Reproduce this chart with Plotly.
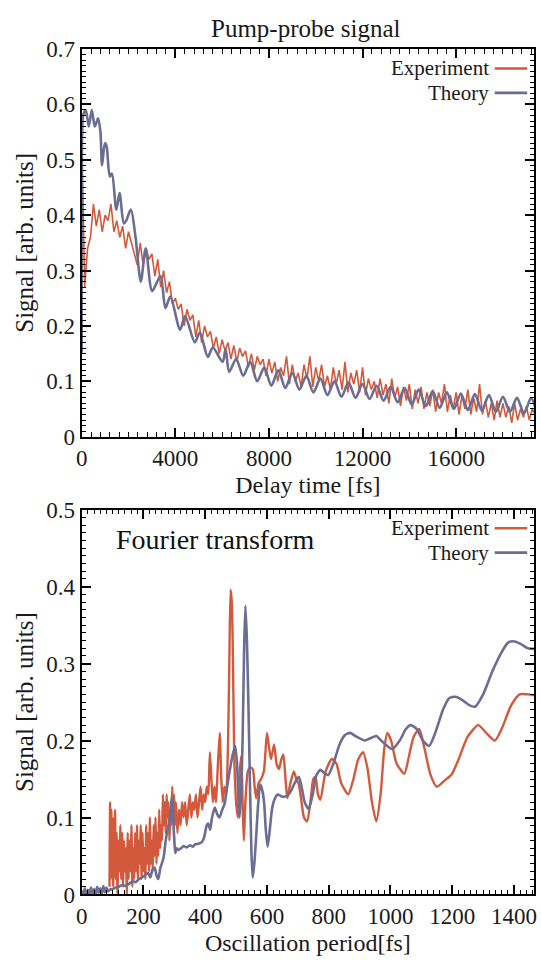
import plotly.graph_objects as go

# ---------------- Top panel: pump-probe signal ----------------
delay_start = 0
delay_step = 125
exp_signal = [
    0.55, 0.27, 0.34, 0.36, 0.42, 0.38, 0.41, 0.37, 0.40, 0.39, 0.42, 0.37, 0.39, 0.36, 0.38, 0.34,
    0.37, 0.35, 0.33, 0.31, 0.35, 0.31, 0.34, 0.32, 0.33, 0.29, 0.32, 0.27, 0.30, 0.26, 0.28, 0.24,
    0.25, 0.23, 0.24, 0.20, 0.23, 0.21, 0.22, 0.18, 0.21, 0.17, 0.20, 0.18, 0.19, 0.16, 0.18, 0.15,
    0.175, 0.155, 0.17, 0.14, 0.165, 0.135, 0.16, 0.145, 0.155, 0.125, 0.15, 0.12, 0.145, 0.13, 0.14, 0.11,
    0.14, 0.115, 0.135, 0.10, 0.125, 0.11, 0.145, 0.095, 0.13, 0.10, 0.115, 0.09, 0.13, 0.105, 0.145, 0.09,
    0.125, 0.10, 0.13, 0.09, 0.11, 0.085, 0.125, 0.095, 0.12, 0.085, 0.135, 0.08, 0.115, 0.095, 0.12, 0.08,
    0.125, 0.075, 0.105, 0.085, 0.10, 0.07, 0.105, 0.075, 0.095, 0.06, 0.105, 0.07, 0.09, 0.055, 0.09, 0.065,
    0.095, 0.05, 0.085, 0.06, 0.09, 0.05, 0.08, 0.055, 0.085, 0.045, 0.08, 0.06, 0.095, 0.045, 0.075, 0.05,
    0.08, 0.04, 0.075, 0.05, 0.085, 0.04, 0.07, 0.045, 0.095, 0.04, 0.065, 0.035, 0.06, 0.03, 0.065, 0.035,
    0.06, 0.035, 0.055, 0.025, 0.06, 0.03, 0.05, 0.035, 0.055, 0.03, 0.05, 0.04,
]
exp_delay = [delay_start + i * delay_step for i in range(len(exp_signal))]

theory_delay = [
    0, 20, 60, 175, 300, 430, 560, 700, 800, 870, 990, 1060, 1200, 1290, 1480, 1615, 1800, 1900,
    2100, 2300, 2525, 2735, 3010, 3365, 3575, 3785, 4205, 4415, 4835, 5045, 5390, 5600, 6020, 6150,
    6300, 6600, 6900, 7200, 7500, 7800, 8100, 8400, 8700, 9000, 9300, 9600, 9900, 10200, 10500, 10800,
    11100, 11400, 11700, 12000, 12300, 12600, 12900, 13200, 13500, 13800, 14100, 14400, 14700, 15000,
    15300, 15600, 15900, 16200, 16500, 16800, 17100, 17400, 17700, 18000, 18300, 18600, 18900, 19200, 19400,
]
theory_signal = [
    0.15, 0.55, 0.58, 0.59, 0.56, 0.59, 0.56, 0.575, 0.55, 0.49, 0.53, 0.525, 0.47, 0.475, 0.41, 0.44, 0.385, 0.39,
    0.41, 0.36, 0.28, 0.34, 0.263, 0.29, 0.232, 0.253, 0.193, 0.218, 0.17, 0.188, 0.144, 0.161, 0.135, 0.158,
    0.117, 0.14, 0.11, 0.135, 0.10, 0.125, 0.092, 0.12, 0.088, 0.115, 0.085, 0.11, 0.08, 0.105, 0.075, 0.10,
    0.072, 0.098, 0.07, 0.095, 0.068, 0.092, 0.065, 0.09, 0.062, 0.088, 0.058, 0.085, 0.055, 0.082,
    0.052, 0.08, 0.05, 0.078, 0.048, 0.077, 0.047, 0.075, 0.045, 0.072, 0.045, 0.07, 0.042, 0.07, 0.05,
]

# ---------------- Bottom panel: Fourier transform ----------------
exp_period = [
    90, 92, 94, 96, 98, 100, 102, 104, 106, 108, 110, 113, 116, 119, 122, 125, 128, 131, 134, 137,
    140, 143, 146, 149, 152, 155, 158, 161, 164, 167, 170, 173, 176, 179, 182, 185, 188, 191, 194, 197,
    200, 203, 206, 209, 212, 215, 218, 221, 224, 227, 230, 233, 236, 239, 242, 245, 248, 251, 254, 257,
    260, 263, 266, 269, 272, 275, 278, 281, 284, 287, 290, 293, 296, 299, 302, 305, 310, 315, 320, 325,
    330, 335, 340, 345, 350, 355, 360, 365, 370, 375, 380, 385, 390, 395, 400, 405, 410, 415, 420, 425,
    430, 435, 440, 447, 452, 457, 462, 468, 474, 478, 482, 486, 490, 494, 500, 506, 512, 517, 521, 525,
    530, 538, 546, 554, 560, 565, 573, 581, 590, 600, 607, 613, 623, 631, 639, 646, 653, 660, 666, 676,
    687, 695, 703, 712, 720, 730, 742, 750, 757, 765, 773, 790, 810, 825, 840, 863, 880, 895, 911, 925,
    940, 954, 968, 980, 990, 1002, 1020, 1045, 1060, 1075, 1093, 1110, 1130, 1150, 1175, 1198, 1220, 1250,
    1284, 1310, 1338, 1360, 1390, 1418, 1445, 1475,
]
exp_ft = [
    0.01, 0.12, 0.02, 0.11, 0.03, 0.09, 0.01, 0.10, 0.04, 0.11, 0.02, 0.08, 0.0, 0.07, 0.03, 0.09, 0.02, 0.08, 0.01, 0.07,
    0.03, 0.06, 0.0, 0.08, 0.02, 0.07, 0.03, 0.09, 0.01, 0.06, 0.02, 0.08, 0.03, 0.09, 0.02, 0.07, 0.04, 0.09, 0.02, 0.08,
    0.03, 0.06, 0.02, 0.09, 0.04, 0.08, 0.03, 0.10, 0.04, 0.07, 0.03, 0.09, 0.05, 0.10, 0.04, 0.08, 0.05, 0.11, 0.06, 0.09,
    0.07, 0.13, 0.09, 0.12, 0.08, 0.13, 0.10, 0.12, 0.07, 0.11, 0.09, 0.14, 0.10, 0.13, 0.09, 0.12, 0.08, 0.11, 0.09, 0.12,
    0.10, 0.12, 0.09, 0.11, 0.13, 0.10, 0.12, 0.11, 0.13, 0.10, 0.12, 0.14, 0.11, 0.13, 0.12, 0.14, 0.13, 0.185, 0.15, 0.12,
    0.14, 0.12, 0.16, 0.21, 0.15, 0.12, 0.14, 0.13, 0.20, 0.30, 0.396, 0.38, 0.30, 0.18, 0.12, 0.10, 0.16, 0.18, 0.12, 0.07,
    0.12, 0.16, 0.165, 0.163, 0.14, 0.125, 0.145, 0.15, 0.16, 0.21, 0.19, 0.176, 0.195, 0.17, 0.163, 0.175, 0.182, 0.15, 0.125, 0.145,
    0.16, 0.15, 0.143, 0.12, 0.10, 0.095, 0.125, 0.15, 0.153, 0.13, 0.123, 0.16, 0.176, 0.17, 0.145, 0.13, 0.15, 0.175, 0.185, 0.165,
    0.12, 0.095, 0.13, 0.19, 0.21, 0.20, 0.17, 0.157, 0.18, 0.205, 0.215, 0.19, 0.155, 0.14, 0.148, 0.156, 0.175, 0.205,
    0.22, 0.21, 0.20, 0.215, 0.245, 0.26, 0.26, 0.258,
]

theory_period = [
    0, 5, 10, 15, 20, 25, 30, 35, 40, 45, 50, 55, 60, 65, 70, 75, 80, 85, 90, 100,
    110, 120, 130, 140, 154, 165, 175, 185, 195, 207, 215, 222, 229, 236, 242, 248, 255, 261, 266, 271,
    276, 282, 286, 290, 293, 296, 300, 303, 308, 314, 322, 330, 340, 350, 360, 367, 378, 389, 397, 405,
    410, 416, 422, 431, 438, 446, 455, 463, 471, 479, 488, 497, 503, 507, 511, 516, 521, 526, 530, 535,
    540, 545, 550, 554, 559, 565, 571, 578, 585, 591, 596, 602, 608, 616, 623, 634, 650, 665, 677, 690,
    703, 712, 722, 735, 748, 760, 773, 785, 798, 815, 835, 852, 869, 890, 917, 935, 954, 975, 1006, 1030,
    1050, 1066, 1085, 1105, 1125, 1145, 1170, 1190, 1210, 1235, 1255, 1274, 1300, 1330, 1360, 1380, 1397, 1420,
    1445, 1475,
]
theory_ft = [
    0.005, 0.0, 0.008, -0.002, 0.006, 0.0, 0.009, 0.001, 0.007, 0.0, 0.01, 0.002, 0.008, 0.001, 0.011, 0.003, 0.009, 0.004, 0.006, 0.007,
    0.009, 0.01, 0.012, 0.011, 0.014, 0.017, 0.016, 0.02, 0.022, 0.026, 0.028, 0.022, 0.032, 0.035, 0.025, 0.02, 0.035, 0.042, 0.05, 0.067,
    0.08, 0.092, 0.10, 0.12, 0.127, 0.10, 0.07, 0.054, 0.06, 0.058, 0.06, 0.063, 0.061, 0.064, 0.062, 0.065, 0.066, 0.068, 0.075, 0.09,
    0.092, 0.084, 0.10, 0.113, 0.105, 0.10, 0.11, 0.118, 0.14, 0.16, 0.18, 0.193, 0.17, 0.13, 0.10, 0.13, 0.20, 0.32, 0.375, 0.33,
    0.244, 0.14, 0.05, 0.022, 0.04, 0.075, 0.115, 0.143, 0.135, 0.118, 0.085, 0.062, 0.08, 0.11, 0.122, 0.13, 0.127, 0.128, 0.134, 0.145,
    0.153, 0.14, 0.12, 0.111, 0.13, 0.155, 0.162, 0.158, 0.155, 0.17, 0.195, 0.207, 0.21, 0.205, 0.2, 0.203, 0.206, 0.198, 0.189, 0.2,
    0.215, 0.22, 0.215, 0.2, 0.193, 0.21, 0.24, 0.255, 0.257, 0.252, 0.246, 0.244, 0.26, 0.29, 0.315, 0.327, 0.329, 0.326,
    0.32, 0.319,
]

EXP_COLOR = "#D2593B"
TH_COLOR = "#6B6D93"
FONT = "Liberation Serif"
TXT = "#1a1a1a"

fig = go.Figure()
fig.add_trace(go.Scatter(x=exp_delay, y=exp_signal, mode="lines", name="Experiment",
                         line=dict(color=EXP_COLOR, width=1.6), xaxis="x", yaxis="y", showlegend=False))
fig.add_trace(go.Scatter(x=theory_delay, y=theory_signal, mode="lines", name="Theory",
                         line=dict(color=TH_COLOR, width=2.6, shape="spline", smoothing=0.8),
                         xaxis="x", yaxis="y", showlegend=False))
fig.add_trace(go.Scatter(x=exp_period, y=exp_ft, mode="lines", name="Experiment",
                         line=dict(color=EXP_COLOR, width=2.4, shape="spline", smoothing=0.6),
                         xaxis="x2", yaxis="y2", showlegend=False))
fig.add_trace(go.Scatter(x=theory_period, y=theory_ft, mode="lines", name="Theory",
                         line=dict(color=TH_COLOR, width=2.6, shape="spline", smoothing=0.6),
                         xaxis="x2", yaxis="y2", showlegend=False))

W, H = 541, 962
def px(x):
    return x / W
def py(y):
    return 1 - y / H

axis_common = dict(showline=True, linecolor="black", linewidth=2, mirror="ticks",
                   ticks="inside", ticklen=9, tickwidth=1.6, tickcolor="black",
                   showgrid=False, zeroline=False,
                   tickfont=dict(family=FONT, size=23, color=TXT))

fig.update_layout(
    width=W, height=H,
    margin=dict(l=0, r=0, t=0, b=0),
    paper_bgcolor="white", plot_bgcolor="white",
    xaxis=dict(domain=[px(77), px(537)], range=[0, 19330], dtick=4000, tick0=0, anchor="y", tickformat="d",
               minor=dict(ticks="inside", ticklen=4.5, dtick=400, tickwidth=1.2, tickcolor="black"),
               title=dict(text="Delay time [fs]", font=dict(family=FONT, size=24, color=TXT), standoff=6),
               **axis_common),
    xaxis2=dict(domain=[px(77), px(537)], range=[0, 1465], dtick=200, tick0=0, anchor="y2", tickformat="d",
                minor=dict(ticks="inside", ticklen=4.5, dtick=20, tickwidth=1.2, tickcolor="black"),
                title=dict(text="Oscillation period[fs]", font=dict(family=FONT, size=24, color=TXT), standoff=6),
                **axis_common),
    yaxis=dict(domain=[py(436), py(38)], range=[0, 0.7], dtick=0.1, tick0=0, anchor="x",
               minor=dict(ticks="inside", ticklen=4.5, dtick=0.01, tickwidth=1.2, tickcolor="black"),
               title=dict(text="Signal [arb. units]", font=dict(family=FONT, size=25, color=TXT), standoff=6),
               **axis_common),
    yaxis2=dict(domain=[py(906), py(511)], range=[0, 0.5], dtick=0.1, tick0=0, anchor="x2",
                minor=dict(ticks="inside", ticklen=4.5, dtick=0.01, tickwidth=1.2, tickcolor="black"),
                title=dict(text="Signal [arb. units]", font=dict(family=FONT, size=25, color=TXT), standoff=6),
                **axis_common),
)

annotations = [
    dict(text="Pump-probe signal", x=px(305), y=py(17), xref="paper", yref="paper",
         xanchor="center", yanchor="middle", showarrow=False, font=dict(family=FONT, size=25, color=TXT)),
    dict(text="Fourier transform", x=px(110), y=py(542), xref="paper", yref="paper",
         xanchor="left", yanchor="middle", showarrow=False, font=dict(family=FONT, size=28, color="#111")),
]
legend_rows = [
    ("Experiment", EXP_COLOR, 58), ("Theory", TH_COLOR, 83),
    ("Experiment", EXP_COLOR, 530), ("Theory", TH_COLOR, 555),
]
shapes = []
for name, col, yy in legend_rows:
    annotations.append(dict(text=name, x=px(492), y=py(yy), xref="paper", yref="paper",
                            xanchor="right", yanchor="middle", showarrow=False, borderpad=0,
                            font=dict(family=FONT, size=21, color=TXT)))
    shapes.append(dict(type="line", xref="paper", yref="paper", x0=px(497), x1=px(530),
                       y0=py(yy), y1=py(yy), line=dict(color=col, width=2.6)))
fig.update_layout(annotations=annotations, shapes=shapes)

fig.write_html("out.html")
